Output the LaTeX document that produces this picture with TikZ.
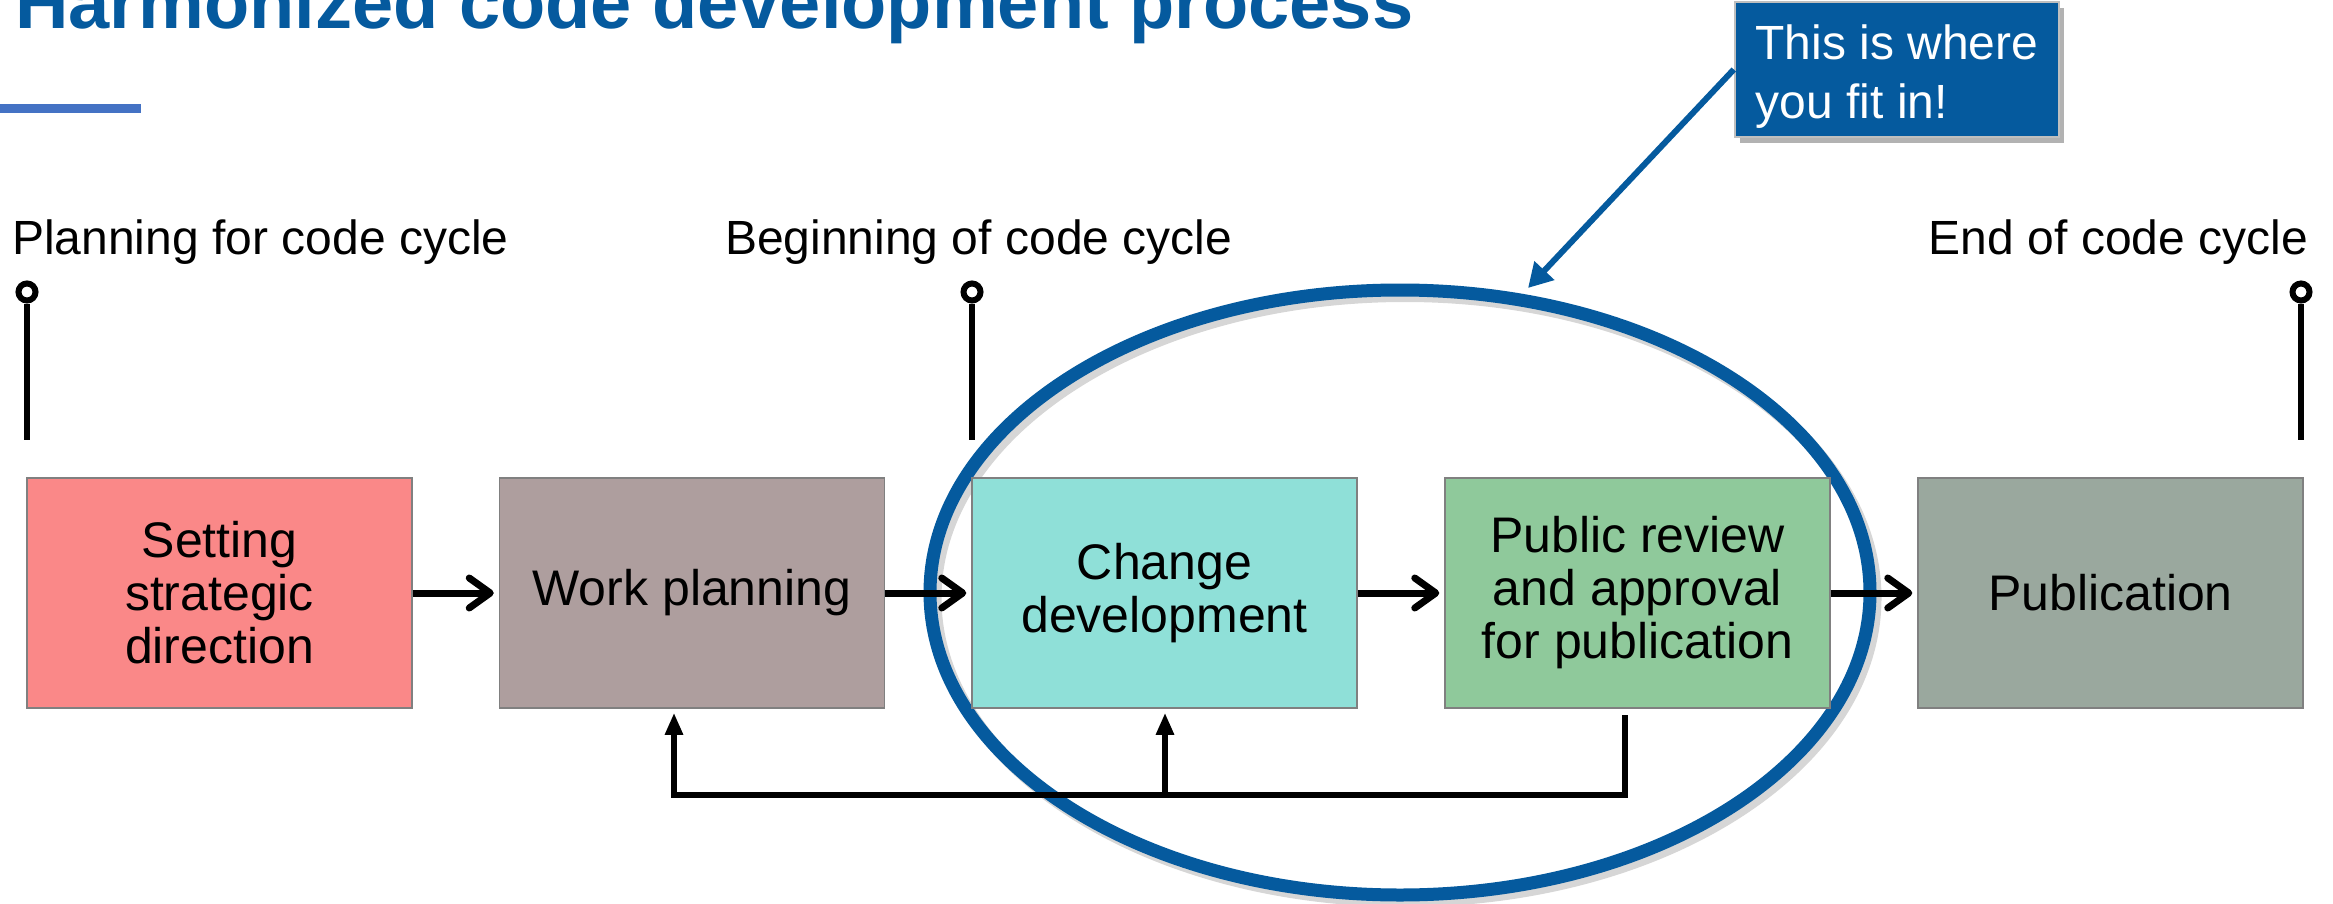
\documentclass[tikz,border=0pt]{standalone}
\usepackage{fontspec}
\setmainfont{Liberation Sans}
\usetikzlibrary{arrows.meta,calc}
\definecolor{titleblue}{RGB}{5,90,158}
\definecolor{accentblue}{RGB}{68,114,196}
\definecolor{boxborder}{RGB}{128,128,128}
\definecolor{calloutborder}{RGB}{191,191,191}
\definecolor{cpink}{RGB}{250,136,136}
\definecolor{cmauve}{RGB}{174,158,158}
\definecolor{caqua}{RGB}{143,224,216}
\definecolor{cgreen}{RGB}{143,201,155}
\definecolor{cgray}{RGB}{154,168,158}
\begin{document}
\begin{tikzpicture}[x=1pt,y=-1pt,
  procbox/.style={draw=boxborder, line width=1.5pt, minimum width=385pt, minimum height=230pt,
    inner sep=0pt, align=center, font=\fontsize{50}{53}\selectfont},
  flow/.style={line width=7pt, -{Straight Barb[length=21pt,width=30pt,round]}, shorten >=5pt},
  fb/.style={line width=6pt, -{Triangle[length=22pt,width=17pt]}, shorten >=4pt},
  pinhead/.style={circle, draw=black, fill=white, line width=6pt, minimum size=17pt, inner sep=0pt},
  pinline/.style={line width=6pt},
  lbl/.style={inner sep=0pt, font=\fontsize{48}{58}\selectfont},
  calloutbox/.style={fill=titleblue, draw=calloutborder, line width=2.5pt, minimum width=324pt,
    minimum height=135pt, inner sep=0pt},
  callouttxt/.style={inner sep=0pt, align=left, text=white, font=\fontsize{48}{59}\selectfont},
  pointer/.style={titleblue, line width=6pt, -{Triangle[length=24pt,width=26pt]}}
]
\clip (0,0) rectangle (2333,904);
\fill[white] (0,0) rectangle (2333,904);

% title and bar
\node[anchor=base west, inner sep=0pt, text=titleblue, font=\fontsize{74}{80}\selectfont\bfseries]
  (title) at (15,29) {Harmonized code development process};
\fill[accentblue] (0,104) rectangle (141,113);

% ellipse with shadow
\draw[line width=13pt, black, opacity=0.16] (1405,598) ellipse [x radius=470pt, y radius=302.5pt];
\draw[line width=13pt, titleblue] (1400,592.5) ellipse [x radius=470pt, y radius=302.5pt];

% labels
\node[lbl, anchor=base west] (l1) at (12,254) {Planning for code cycle};
\node[lbl, anchor=base west] (l2) at (725,254) {Beginning of code cycle};
\node[lbl, anchor=base east] (l3) at (2308,254) {End of code cycle};

% pins
\node[pinhead] (p1) at (27,292) {};
\node[pinhead] (p2) at (972,292) {};
\node[pinhead] (p3) at (2301,292) {};
\coordinate (p1b) at (27,440);
\coordinate (p2b) at (972,440);
\coordinate (p3b) at (2301,440);
\draw[pinline] (p1) -- (p1b);
\draw[pinline] (p2) -- (p2b);
\draw[pinline] (p3) -- (p3b);

% boxes
\node[procbox, fill=cpink]  (b1) at (219.5,593)  {Setting\\strategic\\direction};
\node[procbox, fill=cmauve] (b2) at (692,593)    {\raisebox{-3pt}{Work planning}};
\node[procbox, fill=caqua]  (b3) at (1164.5,593) {Change\\development};
\node[procbox, fill=cgreen] (b4) at (1637.5,593) {Public review\\and approval\\for publication};
\node[procbox, fill=cgray]  (b5) at (2110.5,593) {Publication};

% flow arrows
\draw[flow] (b1.east) -- (b2.west);
\draw[flow] (b2.east) -- (b3.west);
\draw[flow] (b3.east) -- (b4.west);
\draw[flow] (b4.east) -- (b5.west);

% feedback loop
\coordinate (fr) at (1625,715);
\coordinate (fl) at (674,795);
\coordinate (fm) at (1165,795);
\draw[fb] (fr) |- (fl) -- (fl |- b2.south);
\draw[fb] (fm) -- (fm |- b3.south);

% callout
\fill[black, opacity=0.3] (1740,8) rectangle (2064,143);
\coordinate (ptip) at (1528,288);
\node[calloutbox] (callout) at (1897,69.5) {};
\draw[pointer] (callout.west) -- (ptip);
\node[callouttxt] (callouttext) at (1897,77) {This is where\\you fit in!};
\end{tikzpicture}
\end{document}
